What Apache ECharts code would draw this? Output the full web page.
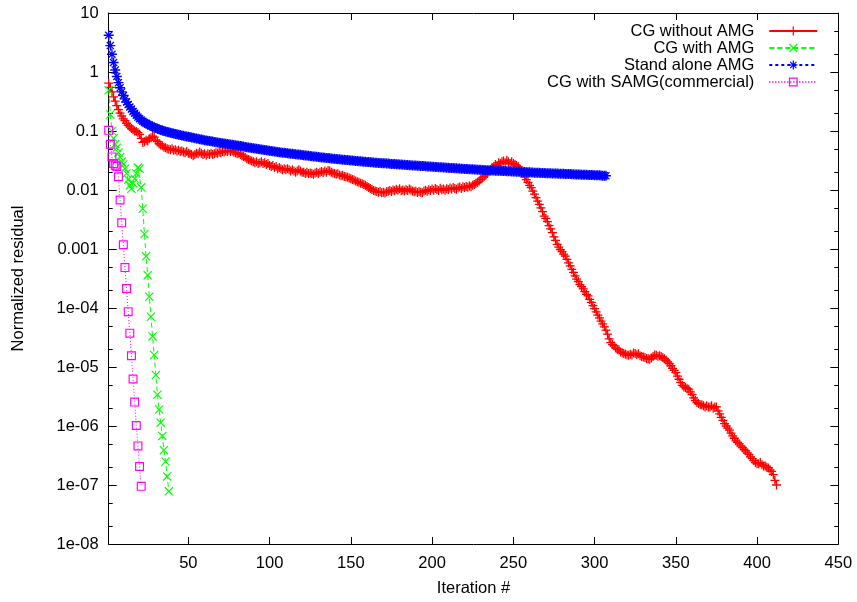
<!DOCTYPE html>
<html>
<head>
<meta charset="utf-8">
<script src="https://cdn.jsdelivr.net/npm/echarts@6/dist/echarts.min.js"></script>
<style>
html,body{margin:0;padding:0;background:#fff;}
#chart{width:857px;height:602px;}
</style>
</head>
<body>
<div id="chart"></div>
<script>
// ---------------- data (index i -> iteration i+1) ----------------
const seriesNames = ['CG without AMG', 'CG with AMG', 'Stand alone AMG', 'CG with SAMG(commercial)'];

const cgWithoutAMG = [
0.65,0.55,0.46,0.38,0.32,0.27,0.23,0.2,0.18,0.16,
0.15,0.135,0.125,0.118,0.11,0.105,0.1,0.098,0.094,0.088,
0.075,0.064,0.066,0.07,0.068,0.074,0.077,0.082,0.079,0.07,
0.066,0.061,0.058,0.056,0.053,0.052,0.05,0.049,0.048,0.05,
0.047,0.048,0.046,0.047,0.045,0.046,0.044,0.043,0.045,0.042,
0.041,0.04,0.038,0.04,0.042,0.041,0.044,0.042,0.04,0.041,
0.039,0.041,0.04,0.042,0.04,0.041,0.043,0.042,0.044,0.043,
0.045,0.044,0.046,0.045,0.047,0.045,0.046,0.044,0.043,0.041,
0.042,0.04,0.038,0.037,0.036,0.034,0.033,0.032,0.031,0.03,
0.029,0.03,0.028,0.029,0.03,0.028,0.029,0.027,0.028,0.026,
0.025,0.026,0.024,0.025,0.023,0.024,0.023,0.022,0.023,0.022,
0.023,0.022,0.021,0.022,0.021,0.02,0.021,0.022,0.021,0.02,
0.02,0.019,0.02,0.019,0.0195,0.019,0.0185,0.0195,0.02,0.019,
0.02,0.0205,0.0198,0.021,0.02,0.0215,0.021,0.02,0.0195,0.019,
0.0185,0.0188,0.018,0.0175,0.0178,0.017,0.0168,0.0165,0.016,0.0155,
0.015,0.0148,0.0142,0.0138,0.0135,0.013,0.0128,0.0124,0.012,0.0115,
0.011,0.0106,0.0102,0.0098,0.0096,0.0094,0.0092,0.0094,0.009,0.0092,
0.0089,0.0093,0.0095,0.0098,0.0094,0.01,0.0097,0.0103,0.0099,0.0105,
0.0097,0.01,0.0096,0.0101,0.0098,0.0104,0.01,0.0096,0.0093,0.0095,
0.0091,0.0094,0.0092,0.009,0.0096,0.0099,0.0095,0.0101,0.0098,0.0104,
0.0099,0.0106,0.0102,0.0098,0.0107,0.0101,0.0104,0.0099,0.0105,0.0102,
0.0108,0.0104,0.011,0.0106,0.0103,0.0109,0.0112,0.0106,0.0113,0.011,
0.0115,0.0111,0.0117,0.0114,0.012,0.0124,0.013,0.0135,0.0142,0.0152,
0.016,0.017,0.018,0.019,0.021,0.022,0.024,0.025,0.027,0.026,
0.029,0.028,0.03,0.031,0.029,0.032,0.03,0.028,0.03,0.028,
0.027,0.026,0.025,0.023,0.021,0.019,0.0165,0.015,0.0135,0.012,
0.011,0.0096,0.0085,0.0074,0.0065,0.0057,0.005,0.0043,0.0036,0.0033,
0.0029,0.0025,0.0022,0.0019,0.0016,0.0014,0.0012,1.08e-3,9.8e-4,9.0e-4,
8.2e-4,7.6e-4,6.7e-4,5.8e-4,5.2e-4,4.5e-4,4.0e-4,3.5e-4,3.1e-4,2.8e-4,
2.5e-4,2.3e-4,2.1e-4,1.9e-4,1.7e-4,1.6e-4,1.4e-4,1.25e-4,1.1e-4,9.8e-5,
8.6e-5,7.6e-5,6.8e-5,6.0e-5,5.4e-5,4.8e-5,4.2e-5,3.6e-5,3.0e-5,2.6e-5,
2.4e-5,2.3e-5,2.1e-5,2.0e-5,1.95e-5,1.8e-5,1.75e-5,1.7e-5,1.65e-5,1.6e-5,
1.58e-5,1.65e-5,1.6e-5,1.72e-5,1.7e-5,1.62e-5,1.68e-5,1.55e-5,1.5e-5,1.48e-5,
1.45e-5,1.4e-5,1.38e-5,1.35e-5,1.42e-5,1.5e-5,1.6e-5,1.58e-5,1.52e-5,1.55e-5,
1.5e-5,1.45e-5,1.38e-5,1.3e-5,1.22e-5,1.15e-5,1.05e-5,9.5e-6,8.8e-6,8.0e-6,
7.0e-6,6.2e-6,5.5e-6,4.9e-6,4.6e-6,4.5e-6,4.3e-6,4.2e-6,3.8e-6,3.4e-6,
3.0e-6,2.7e-6,2.5e-6,2.4e-6,2.3e-6,2.3e-6,2.2e-6,2.1e-6,2.2e-6,2.1e-6,
2.1e-6,2.2e-6,2.0e-6,2.1e-6,2.1e-6,1.8e-6,1.6e-6,1.4e-6,1.25e-6,1.1e-6,
1.0e-6,9.2e-7,8.5e-7,7.6e-7,6.8e-7,6.2e-7,5.6e-7,5.3e-7,5.0e-7,4.6e-7,
4.3e-7,4.0e-7,3.8e-7,3.5e-7,3.3e-7,3.0e-7,2.8e-7,2.6e-7,2.4e-7,2.3e-7,
2.3e-7,2.4e-7,2.2e-7,2.1e-7,2.1e-7,2.0e-7,1.95e-7,1.8e-7,1.7e-7,1.5e-7,
1.2e-7,1.0e-7
];

const cgWithAMG = [
0.49,0.19,0.1,0.075,0.06,0.052,0.043,0.036,0.03,0.027,
0.023,0.019,0.015,0.012,0.0105,0.013,0.0155,0.019,0.024,0.023,
0.0111,0.0048,0.0018,7.5e-4,3.6e-4,1.55e-4,7.1e-5,3.3e-5,1.6e-5,7.3e-6,
3.4e-6,1.9e-6,1.14e-6,6.8e-7,3.9e-7,2.5e-7,1.4e-7,7.8e-8
];

const standAloneAMG = [
4.2,2.8,2.0,1.45,1.08,0.84,0.66,0.54,0.46,0.4,
0.35,0.31,0.28,0.255,0.235,0.215,0.2,0.185,0.172,0.162,
0.153,0.146,0.14,0.135,0.13,0.126,0.122,0.118,0.115,0.112,
0.109,0.107,0.104,0.102,0.1,0.098,0.0965,0.095,0.0935,0.092,
0.0905,0.089,0.0877,0.0864,0.0852,0.084,0.0829,0.0818,0.0808,0.0798,
0.0789,0.0778,0.0767,0.0756,0.0746,0.0736,0.0727,0.0718,0.0709,0.07,
0.0692,0.0684,0.0676,0.0668,0.0661,0.0654,0.0647,0.064,0.0633,0.0626,
0.0619,0.0613,0.0607,0.0601,0.0595,0.0589,0.0583,0.0577,0.0572,0.0567,
0.0562,0.0556,0.055,0.0544,0.0538,0.0532,0.0526,0.052,0.0515,0.051,
0.0505,0.05,0.0495,0.049,0.0485,0.048,0.0475,0.047,0.0466,0.0462,
0.0458,0.0454,0.045,0.0446,0.0442,0.0438,0.0434,0.043,0.0426,0.0422,
0.0419,0.0416,0.0413,0.041,0.0407,0.0404,0.0401,0.0398,0.0395,0.0392,
0.0389,0.0386,0.0383,0.038,0.0377,0.0374,0.0371,0.0368,0.0365,0.0362,
0.0359,0.0357,0.0354,0.0352,0.0349,0.0347,0.0344,0.0342,0.0339,0.0337,
0.0335,0.0333,0.0331,0.0329,0.0327,0.0325,0.0323,0.0321,0.0319,0.0317,
0.0315,0.0313,0.0311,0.0309,0.0307,0.0306,0.0304,0.0302,0.0301,0.0299,
0.0297,0.0296,0.0294,0.0293,0.0291,0.029,0.0288,0.0287,0.0285,0.0284,
0.0283,0.0281,0.028,0.0279,0.0277,0.0276,0.0275,0.0273,0.0272,0.0271,
0.027,0.0268,0.0267,0.0266,0.0265,0.0264,0.0262,0.0261,0.026,0.0259,
0.0258,0.0257,0.0256,0.0255,0.0254,0.0252,0.0251,0.025,0.0249,0.0248,
0.0247,0.0246,0.0245,0.0244,0.0243,0.0242,0.0241,0.024,0.0239,0.0238,
0.0237,0.0236,0.0235,0.0234,0.0233,0.0232,0.0231,0.023,0.0229,0.0228,
0.0227,0.0226,0.0225,0.0224,0.0224,0.0223,0.0222,0.0221,0.0221,0.022,
0.0219,0.0218,0.0217,0.0217,0.0216,0.0215,0.0214,0.0214,0.0213,0.0212,
0.0211,0.0211,0.021,0.0209,0.0209,0.0208,0.0207,0.0207,0.0206,0.0205,
0.0205,0.0204,0.0203,0.0203,0.0202,0.0202,0.0201,0.02,0.02,0.0199,
0.0198,0.0198,0.0197,0.0197,0.0196,0.0196,0.0195,0.0194,0.0194,0.0193,
0.0193,0.0192,0.0192,0.0191,0.0191,0.019,0.019,0.0189,0.0189,0.0188,
0.0188,0.0187,0.0187,0.0186,0.0186,0.0185,0.0185,0.0184,0.0184,0.0183,
0.0183,0.0182,0.0182,0.0181,0.0181,0.018,0.018,0.0179,0.0179,0.0178,
0.0178,0.0177,0.0177,0.0176,0.0175,0.0175,0.0174
];

const cgWithSAMG = [
0.1026,0.0596,0.0364,0.028,0.0264,0.0251,0.0168,0.00678,0.00278,0.00118,
4.84e-4,2.14e-4,8.67e-5,3.74e-5,1.55e-5,6.27e-6,2.54e-6,1.02e-6,4.6e-7,2.06e-7,
9.5e-8
];

const xTickValues = [50, 100, 150, 200, 250, 300, 350, 400, 450];
const yMajorValues = [1e-8, 1e-7, 1e-6, 1e-5, 1e-4, 1e-3, 0.01, 0.1, 1, 10];
const yMajorLabels = ['1e-08', '1e-07', '1e-06', '1e-05', '1e-04', '0.001', '0.01', '0.1', '1', '10'];
const yMinorValues = [2e-8, 5e-8, 2e-7, 5e-7, 2e-6, 5e-6, 2e-5, 5e-5, 2e-4, 5e-4, 2e-3, 5e-3, 0.02, 0.05, 0.2, 0.5, 2, 5];

// ---------------- chart ----------------
const FONT = "'Liberation Sans', Arial, Helvetica, sans-serif";
const FS = 16.5;
const SYM_PLUS = 'path://M0,4.3L10,4.3L10,5.7L0,5.7Z M4.3,0L5.7,0L5.7,10L4.3,10Z';
const SYM_CROSS = 'path://M0,0.9L0.9,0L10,9.1L9.1,10Z M9.1,0L10,0.9L0.9,10L0,9.1Z';
const SYM_STAR = 'path://M0,4.3L10,4.3L10,5.7L0,5.7Z M4.3,0L5.7,0L5.7,10L4.3,10Z M1,1.9L1.9,1L9,8.1L8.1,9Z M8.1,1L9,1.9L1.9,9L1,8.1Z';
const SYM_SQUARE = 'path://M0,0L10,0L10,10L0,10Z M1.3,1.3L1.3,8.7L8.7,8.7L8.7,1.3Z';

function toPairs(arr) { return arr.map((v, i) => [i + 1, v]); }

function yLabel(v) {
  for (let i = 0; i < yMajorValues.length; i++) {
    if (Math.abs(Math.log10(v) - Math.log10(yMajorValues[i])) < 0.01) return yMajorLabels[i];
  }
  return '';
}

const chart = echarts.init(document.getElementById('chart'), null, { renderer: 'canvas' });

const axisLineStyle = { show: true, lineStyle: { color: '#000', width: 1 } };

function yAx(position, major, withLabels, extra) {
  return Object.assign({
    type: 'log', logBase: 10, min: 1e-8, max: 10, position: position,
    axisLine: major ? axisLineStyle : { show: false },
    axisTick: { show: true, inside: true, length: major ? 8 : 4, lineStyle: { color: '#000', width: 1 },
                customValues: major ? yMajorValues : yMinorValues },
    axisLabel: withLabels ? { show: true, customValues: yMajorValues, formatter: yLabel, color: '#000',
                fontSize: FS, fontFamily: FONT, margin: 10 } : { show: false },
    splitLine: { show: false }, minorTick: { show: false }, minorSplitLine: { show: false }
  }, extra || {});
}

const option = {
  animation: false,
  backgroundColor: '#fff',
  grid: { left: 108.7, right: 18.7, top: 13, bottom: 55, containLabel: false },
  legend: {
    orient: 'vertical', align: 'right', right: 38.7, top: 22.5, padding: 0,
    itemWidth: 48, itemHeight: 11, itemGap: 0,
    textStyle: { color: '#000', fontSize: FS, fontFamily: FONT, lineHeight: 16.5, padding: [0, 10, 0, 0] },
    data: seriesNames, selectedMode: false
  },
  xAxis: [
    {
      type: 'value', min: 1, max: 450, position: 'bottom',
      axisLine: axisLineStyle,
      axisTick: { show: true, inside: true, length: 7, customValues: xTickValues, lineStyle: { color: '#000' } },
      axisLabel: { show: true, customValues: xTickValues, color: '#000', fontSize: FS, fontFamily: FONT, margin: 11 },
      splitLine: { show: false },
      name: 'Iteration #', nameLocation: 'middle', nameGap: 36,
      nameTextStyle: { color: '#000', fontSize: FS, fontFamily: FONT }
    },
    {
      type: 'value', min: 1, max: 450, position: 'top',
      axisLine: axisLineStyle,
      axisTick: { show: true, inside: true, length: 7, customValues: xTickValues, lineStyle: { color: '#000' } },
      axisLabel: { show: false }, splitLine: { show: false }
    }
  ],
  yAxis: [
    yAx('left', true, true, { name: 'Normalized residual', nameLocation: 'middle', nameGap: 82, nameRotate: 90,
      nameTextStyle: { color: '#000', fontSize: FS, fontFamily: FONT } }),
    yAx('left', false, false),
    yAx('right', true, false),
    yAx('right', false, false)
  ],
  series: [
    {
      name: seriesNames[0], type: 'line', data: toPairs(cgWithoutAMG), xAxisIndex: 0, yAxisIndex: 0,
      symbol: SYM_PLUS, symbolSize: 9, showSymbol: true, silent: true,
      lineStyle: { color: '#ff0000', width: 1, type: 'solid' }, itemStyle: { color: '#ff0000' },
      emphasis: { disabled: true }
    },
    {
      name: seriesNames[1], type: 'line', data: toPairs(cgWithAMG), xAxisIndex: 0, yAxisIndex: 0,
      symbol: SYM_CROSS, symbolSize: 9, showSymbol: true, silent: true,
      lineStyle: { color: '#00ff00', width: 1, type: [5, 3] }, itemStyle: { color: '#00ff00' },
      emphasis: { disabled: true }
    },
    {
      name: seriesNames[2], type: 'line', data: toPairs(standAloneAMG), xAxisIndex: 0, yAxisIndex: 0,
      symbol: SYM_STAR, symbolSize: 10, showSymbol: true, silent: true,
      lineStyle: { color: '#0000ff', width: 1, type: [3, 3] }, itemStyle: { color: '#0000ff' },
      emphasis: { disabled: true }
    },
    {
      name: seriesNames[3], type: 'line', data: toPairs(cgWithSAMG), xAxisIndex: 0, yAxisIndex: 0,
      symbol: SYM_SQUARE, symbolSize: 9, showSymbol: true, silent: true,
      lineStyle: { color: '#ff00ff', width: 1, type: [1, 2] }, itemStyle: { color: '#ff00ff' },
      emphasis: { disabled: true }
    }
  ]
};

chart.setOption(option);
</script>
</body>
</html>
